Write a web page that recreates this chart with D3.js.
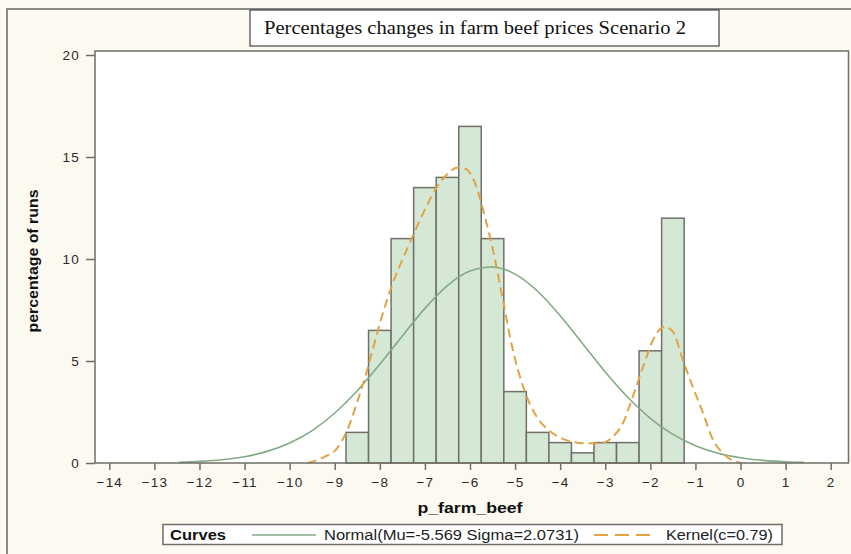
<!DOCTYPE html>
<html lang="en">
<head>
    <meta charset="UTF-8">
    <title>Farm beef prices</title>
    <script src="https://cdn.jsdelivr.net/npm/d3@7"></script>
</head>
<style>
    body {
        margin: 0;
        background: #fcf9f1;
    }
    .ticks line {
        stroke: #6e6e66;
        stroke-width: 1.5px;
    }
    .axlabel {
        font-family: "Liberation Sans", Arial, sans-serif;
        font-size: 15px;
        font-weight: bold;
        fill: #111;
    }
    .legend text {
        font-family: "Liberation Sans", Arial, sans-serif;
        font-size: 14px;
        fill: #222;
    }
</style>
<body>
<div id="chart"></div>
<script>
    // histogram bins (percent of runs), bin width 0.5
    var binCenters = [-8.5, -8, -7.5, -7, -6.5, -6, -5.5, -5, -4.5, -4, -3.5, -3, -2.5, -2, -1.5];
    var binPercents = [1.5, 6.5, 11, 13.5, 14, 16.5, 11, 3.5, 1.5, 1, 0.5, 1, 1, 5.5, 12];
    var binWidth = 0.5;

    // fitted normal curve
    var normalX = [-12.45, -12, -11.5, -11, -10.5, -10, -9.5, -9, -8.5, -8, -7.5, -7, -6.5, -6, -5.5, -5,
        -4.5, -4, -3.5, -3, -2.5, -2, -1.5, -1, -0.5, 0, 0.5, 1, 1.4];
    var normalY = [0.04, 0.08, 0.16, 0.31, 0.57, 0.98, 1.59, 2.45, 3.54, 4.84, 6.23, 7.58, 8.70, 9.41, 9.61, 9.26,
        8.42, 7.22, 5.85, 4.46, 3.22, 2.19, 1.40, 0.85, 0.48, 0.26, 0.13, 0.06, 0.035];

    // kernel density curve
    var kernelX = [-9.6, -9.25, -8.95, -8.74, -8.5, -8.26, -8, -7.74, -7.34, -7.04, -6.75, -6.52, -6.27, -6.08,
        -5.86, -5.67, -5.49, -5.27, -5.05, -4.82, -4.68, -4.5, -4.25, -4, -3.75, -3.5, -3.12, -2.83, -2.61,
        -2.39, -2.16, -1.94, -1.68, -1.5, -1.28, -1.06, -0.83, -0.61, -0.39, -0.2, 0.02];
    var kernelY = [0, 0.28, 0.72, 1.53, 3.0, 4.72, 6.85, 8.64, 10.77, 12.24, 13.47, 14.12, 14.49, 14.4,
        13.55, 12.07, 10.44, 7.99, 5.54, 3.74, 2.93, 2.2, 1.6, 1.25, 1.05, 0.97, 0.97, 1.29, 1.95,
        3.25, 4.72, 6.03, 6.68, 6.44, 5.05, 3.74, 2.44, 1.13, 0.48, 0.15, 0];

    var xTicks = d3.range(-14, 3, 1);
    var yTicks = [0, 5, 10, 15, 20];

    var titleText = "Percentages changes in farm beef prices Scenario 2";
    var xLabel = "p_farm_beef";
    var yLabel = "percentage of runs";
    var normalLabel = "Normal(Mu=-5.569 Sigma=2.0731)";
    var kernelLabel = "Kernel(c=0.79)";

    var W = 851, H = 554;
    var plot = {left: 95, right: 848.5, top: 51, bottom: 463};

    var svg = d3.select("#chart").append("svg")
        .attr("width", W)
        .attr("height", H);

    // outer frame
    svg.append("rect")
        .attr("x", 7).attr("y", 9)
        .attr("width", W).attr("height", H)
        .style("fill", "#fcf9f1")
        .style("stroke", "#8a8a84")
        .style("stroke-width", 2);

    var x = d3.scaleLinear().domain([-14, 2]).range([109.3, 830.7]);
    var y = d3.scaleLinear().domain([0, 20]).range([463, 55]);

    // plot area
    svg.append("rect")
        .attr("x", plot.left).attr("y", plot.top)
        .attr("width", plot.right - plot.left)
        .attr("height", plot.bottom - plot.top)
        .style("fill", "#fff");

    // bars
    svg.append("g").selectAll("rect")
        .data(binCenters)
        .enter()
        .append("rect")
        .attr("x", function(d) { return x(d - binWidth / 2); })
        .attr("width", function(d) { return x(d + binWidth / 2) - x(d - binWidth / 2); })
        .attr("y", function(d, i) { return y(binPercents[i]); })
        .attr("height", function(d, i) { return y(0) - y(binPercents[i]); })
        .style("fill", "#d5e7d5")
        .style("stroke", "#707069")
        .style("stroke-width", 1.5);

    // normal curve
    var normalLine = d3.line()
        .x(function(d, i) { return x(normalX[i]); })
        .y(function(d) { return y(d); })
        .curve(d3.curveMonotoneX);
    svg.append("path")
        .attr("d", normalLine(normalY))
        .style("fill", "none")
        .style("stroke", "#82aa84")
        .style("stroke-width", 1.6);

    // kernel curve
    var kernelLine = d3.line()
        .x(function(d, i) { return x(kernelX[i]); })
        .y(function(d) { return y(d); })
        .curve(d3.curveMonotoneX);
    svg.append("path")
        .attr("d", kernelLine(kernelY))
        .style("fill", "none")
        .style("stroke", "#e2a343")
        .style("stroke-width", 2)
        .style("stroke-dasharray", "9,5");

    // frame of the plot area
    svg.append("rect")
        .attr("x", plot.left).attr("y", plot.top)
        .attr("width", plot.right - plot.left)
        .attr("height", plot.bottom - plot.top)
        .style("fill", "none")
        .style("stroke", "#6e6e66")
        .style("stroke-width", 1.5);

    // x axis
    var xAxis = svg.append("g")
        .attr("class", "ticks")
        .attr("transform", "translate(0," + plot.bottom + ")")
        .call(d3.axisBottom(x).tickValues(xTicks).tickSize(7).tickPadding(7));
    xAxis.select(".domain").remove();

    // y axis
    var yAxis = svg.append("g")
        .attr("class", "ticks")
        .attr("transform", "translate(" + plot.left + ",0)")
        .call(d3.axisLeft(y).tickValues(yTicks).tickSize(9).tickPadding(6));
    yAxis.select(".domain").remove();

    // tick label font
    svg.selectAll(".ticks text")
        .style("font-family", "'Liberation Sans', Arial, sans-serif")
        .style("font-size", "13.5px")
        .style("letter-spacing", "1.2px")
        .style("fill", "#2a2a2a");

    // axis labels
    svg.append("text")
        .attr("class", "axlabel")
        .attr("x", 470)
        .attr("y", 513)
        .attr("textLength", 105)
        .attr("lengthAdjust", "spacingAndGlyphs")
        .style("text-anchor", "middle")
        .text(xLabel);

    svg.append("text")
        .attr("class", "axlabel")
        .attr("transform", "translate(38,261) rotate(-90)")
        .attr("textLength", 143)
        .attr("lengthAdjust", "spacingAndGlyphs")
        .style("text-anchor", "middle")
        .text(yLabel);

    // title box
    svg.append("rect")
        .attr("x", 250).attr("y", 10)
        .attr("width", 469).attr("height", 36)
        .style("fill", "#fff")
        .style("stroke", "#444")
        .style("stroke-width", 1.2);
    svg.append("text")
        .attr("x", 264)
        .attr("y", 34)
        .attr("textLength", 422)
        .attr("lengthAdjust", "spacingAndGlyphs")
        .style("font-family", "'Liberation Serif', 'Times New Roman', serif")
        .style("font-size", "18px")
        .style("fill", "#111")
        .text(titleText);

    // legend
    var legend = svg.append("g").attr("class", "legend");
    legend.append("rect")
        .attr("x", 163).attr("y", 524.5)
        .attr("width", 619).attr("height", 20)
        .style("fill", "#fff")
        .style("stroke", "#6e6e66")
        .style("stroke-width", 1.5);
    legend.append("text")
        .attr("x", 170).attr("y", 540)
        .attr("textLength", 56)
        .attr("lengthAdjust", "spacingAndGlyphs")
        .style("font-weight", "bold")
        .style("fill", "#111")
        .text("Curves");
    legend.append("line")
        .attr("x1", 252).attr("x2", 316)
        .attr("y1", 535).attr("y2", 535)
        .style("stroke", "#82aa84")
        .style("stroke-width", 1.6);
    legend.append("text")
        .attr("x", 324).attr("y", 540)
        .attr("textLength", 255)
        .attr("lengthAdjust", "spacingAndGlyphs")
        .text(normalLabel);
    legend.append("line")
        .attr("x1", 594).attr("x2", 654)
        .attr("y1", 535).attr("y2", 535)
        .style("stroke", "#e2a343")
        .style("stroke-width", 2)
        .style("stroke-dasharray", "14,7");
    legend.append("text")
        .attr("x", 666).attr("y", 540)
        .attr("textLength", 107)
        .attr("lengthAdjust", "spacingAndGlyphs")
        .text(kernelLabel);
</script>
</body>
</html>
